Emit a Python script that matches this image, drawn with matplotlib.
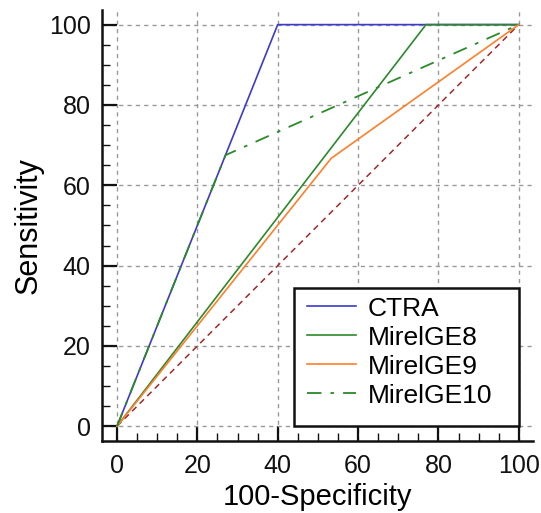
import matplotlib
matplotlib.use("Agg")
import matplotlib.pyplot as plt
from matplotlib.ticker import MultipleLocator
from matplotlib.patches import Rectangle

plt.rcParams['font.family'] = ['Liberation Sans', 'DejaVu Sans']

# Data (100-Specificity, Sensitivity)
ctra_x = [0, 40, 100]
ctra_y = [0, 100, 100]
ge8_x = [0, 76.9, 100]
ge8_y = [0, 100, 100]
ge9_x = [0, 53.3, 100]
ge9_y = [0, 66.7, 100]
ge10_x = [0, 27, 100]
ge10_y = [0, 67.5, 100]
diag = [0, 100]

fig = plt.figure(figsize=(5.41, 5.13), dpi=100)
ax = fig.add_axes([0.188, 0.140, 0.797, 0.841])

ax.plot(diag, diag, color='#a0282d', lw=1.1, ls=(0, (4, 3)), zorder=2)
ax.plot(ctra_x, ctra_y, color='#3a3acc', lw=1.2, label='CTRA', zorder=3)
ax.plot(ge8_x, ge8_y, color='#2a8a2a', lw=1.2, label='MirelGE8', zorder=3)
ax.plot(ge9_x, ge9_y, color='#ff7f2a', lw=1.2, label='MirelGE9', zorder=3)
ax.plot(ge10_x, ge10_y, color='#2a8a2a', lw=1.3, ls=(0, (8, 5, 2, 5)),
        label='MirelGE10', zorder=3)

ax.set_xlim(-3.8, 103.5)
ax.set_ylim(-3.7, 103.7)
ax.xaxis.set_major_locator(MultipleLocator(20))
ax.yaxis.set_major_locator(MultipleLocator(20))
ax.xaxis.set_minor_locator(MultipleLocator(5))
ax.yaxis.set_minor_locator(MultipleLocator(5))
ax.grid(True, which='major', color='#999999', ls=(0, (3, 3)), lw=1.0)

for s in ['top', 'right']:
    ax.spines[s].set_visible(False)
for s in ['left', 'bottom']:
    ax.spines[s].set_linewidth(1.8)
    ax.spines[s].set_color('#111111')

ax.tick_params(which='major', direction='in', length=10.5, width=1.6,
               labelsize=18, colors='#111111')
ax.tick_params(which='minor', direction='in', length=5.5, width=1.0, colors='#111111')
ax.tick_params(axis='y', which='major', pad=8)
ax.tick_params(axis='x', which='major', pad=9)

ax.set_xlabel('100-Specificity', fontsize=21, labelpad=4)
ax.set_ylabel('Sensitivity', fontsize=22, labelpad=4)

# legend box (frame drawn separately to match reference padding)
box = Rectangle((44.0, 0), 56.0, 34.5, transform=ax.transData, facecolor='white',
                edgecolor='#111111', lw=1.8, zorder=5, clip_on=False)
ax.add_patch(box)
leg = ax.legend(loc='upper left', bbox_to_anchor=(47.3, 32.3), bbox_transform=ax.transData,
                fontsize=19, frameon=False, borderaxespad=0, borderpad=0,
                handlelength=1.85, handletextpad=0.45, labelspacing=0.19)
leg.set_zorder(6)

fig.savefig('out.png', dpi=100)
